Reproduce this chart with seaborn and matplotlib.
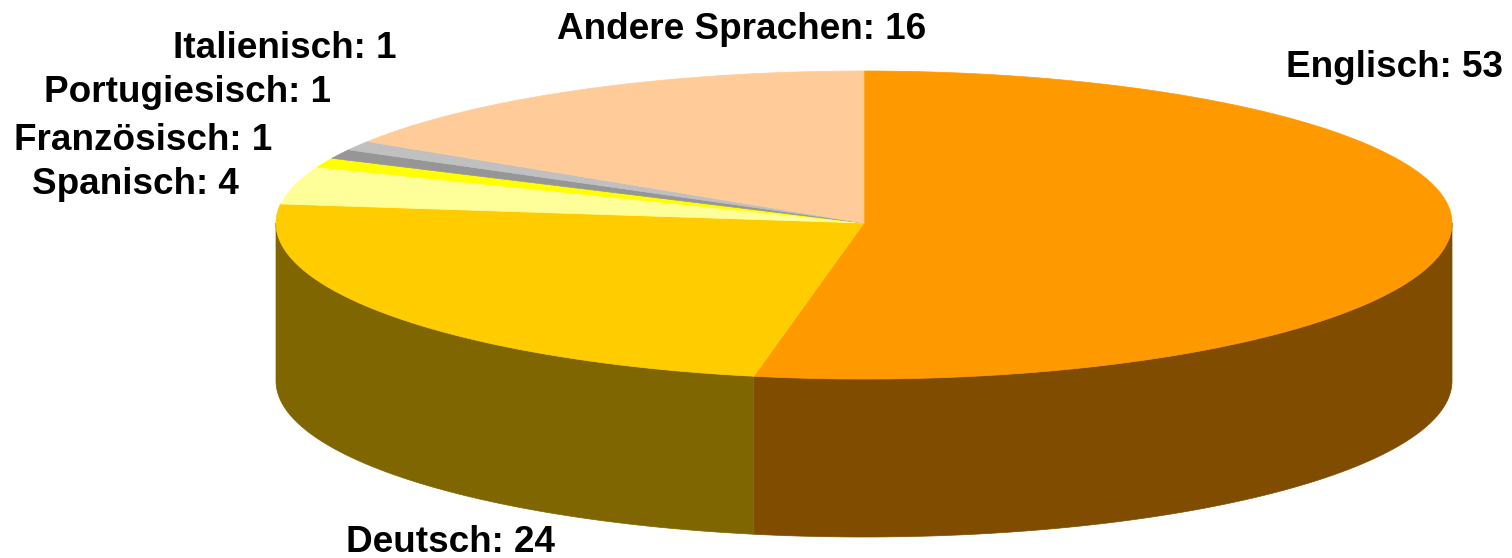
import numpy as np
import matplotlib.pyplot as plt
import seaborn as sns
from matplotlib.colors import to_rgb

# Daten
sprachen = ["Englisch", "Deutsch", "Spanisch", "Französisch",
            "Portugiesisch", "Italienisch", "Andere Sprachen"]
anzahl = [53, 24, 4, 1, 1, 1, 16]
farben = ["#FF9900", "#FFCC00", "#FFFF99", "#FFFF00",
          "#969696", "#C0C0C0", "#FFCC99"]

# Beschriftungspositionen (Mitte x, Grundlinie y) in Pixeln
label_pos = [(1395, 77), (451, 552), (135, 194), (143, 150),
             (187, 102), (285, 58), (742, 39)]

sns.set_theme(style="white")
plt.rcParams["font.family"] = ["Liberation Sans", "DejaVu Sans"]

# Geometrie der 3D-Torte (hinten etwas flacher als vorne)
cx, cy = 864, 223
rx = 588
ry_hinten, ry_vorne = 152, 156
tiefe = 158

fig = plt.figure(figsize=(15.12, 5.58), dpi=100)
ax = fig.add_axes([0, 0, 1, 1])
ax.set_xlim(0, 1512)
ax.set_ylim(558, 0)
ax.axis("off")


def arc(t1, t2, n=200):
    t = np.radians(np.linspace(t1, t2, n))
    s = np.sin(t)
    ry = np.where(s > 0, ry_hinten, ry_vorne)
    return cx + rx * np.cos(t), cy - ry * s


total = sum(anzahl)
grenzen = 90 - 360 * np.concatenate([[0], np.cumsum(anzahl)]) / total

# Seitenwände (nur vordere Hälfte sichtbar)
for i, f in enumerate(farben):
    start, ende = grenzen[i], grenzen[i + 1]
    a, b = max(ende, -180), min(start, 0)
    if a >= b:
        continue
    x, y = arc(a, b)
    dunkel = tuple(c * 0.5 for c in to_rgb(f))
    xs = np.concatenate([x, x[::-1]])
    ys = np.concatenate([y, y[::-1] + tiefe])
    ax.fill(xs, ys, color=dunkel, lw=0.5)

# Deckfläche
for i, f in enumerate(farben):
    x, y = arc(grenzen[i], grenzen[i + 1])
    ax.fill(np.concatenate([[cx], x]), np.concatenate([[cy], y]),
            color=f, lw=0.5)

# Beschriftungen
for name, v, (lx, ly) in zip(sprachen, anzahl, label_pos):
    ax.text(lx, ly, f"{name}: {v}", ha="center", va="baseline",
            fontsize=26.6, fontweight="bold", color="black")

fig.savefig("out.png", dpi=100)
plt.close()
